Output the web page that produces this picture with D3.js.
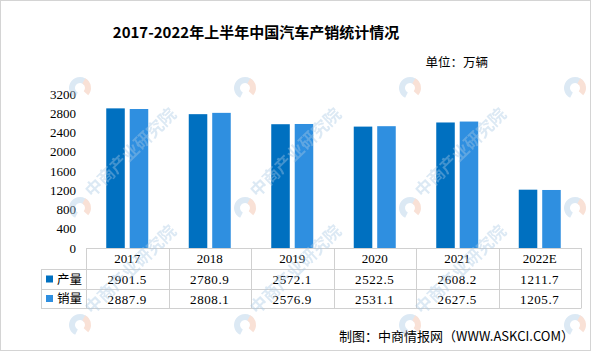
<!DOCTYPE html>
<html>
<head>
<meta charset="utf-8">
<script src="https://cdn.jsdelivr.net/npm/d3@7"></script>
<style>
  body { margin: 0; background: #fff; }
  svg { display: block; }
</style>
</head>
<body>
<div class="chart"></div>
<script>
//Chart data
var years = ["2017", "2018", "2019", "2020", "2021", "2022E"];
var production = [2901.5, 2780.9, 2572.1, 2522.5, 2608.2, 1211.7];
var sales = [2887.9, 2808.1, 2576.9, 2531.1, 2627.5, 1205.7];
var seriesNames = ["产量", "销量"];
var yTicks = [0, 400, 800, 1200, 1600, 2000, 2400, 2800, 3200];

var colors = ["#0070c0", "#2f8fe0"];
var cjk = "'Noto Sans CJK SC', sans-serif";
var num = "'Liberation Serif', serif";

//Width and height
var w = 595;
var h = 352;
var plotLeft = 86, plotRight = 581, plotTop = 94, plotBottom = 248;

var svg = d3.select(".chart")
    .append("svg")
    .attr("width", w)
    .attr("height", h);

//Frame
svg.append("rect")
    .attr("x", 0.5).attr("y", 0.5)
    .attr("width", 590).attr("height", 350)
    .attr("fill", "#fff")
    .attr("stroke", "#d4d4d4");

//Scales
var xScale = d3.scaleBand()
    .domain(years)
    .range([plotLeft, plotRight]);

var inner = d3.scaleBand()
    .domain(seriesNames)
    .range([-21, 21])
    .paddingInner(0.21);

var yScale = d3.scaleLinear()
    .domain([0, 3200])
    .range([plotBottom, plotTop]);

//Y axis
var yAxis = d3.axisLeft(yScale)
    .tickValues(yTicks)
    .tickFormat(d3.format("d"))
    .tickSize(0)
    .tickPadding(10);
var gy = svg.append("g")
    .attr("transform", "translate(" + plotLeft + ",0)")
    .call(yAxis);
gy.select(".domain").remove();
gy.selectAll("text")
    .style("font-family", num)
    .style("font-size", "13px")
    .attr("fill", "#000");

//Bars
var series = [production, sales];
series.forEach(function (values, s) {
    svg.append("g")
        .selectAll("rect")
        .data(values)
        .enter()
        .append("rect")
        .attr("x", (d, i) => xScale(years[i]) + xScale.bandwidth() / 2 + inner(seriesNames[s]))
        .attr("y", d => yScale(d))
        .attr("width", inner.bandwidth())
        .attr("height", d => yScale(0) - yScale(d))
        .attr("fill", colors[s]);
});

//Data table
var rowY = [248, 269, 289, 308];
var tableLeft = 41;
var lineColor = "#d0d0d0";
var table = svg.append("g").attr("stroke", lineColor).attr("stroke-width", 1);

rowY.forEach(function (y, r) {
    table.append("line")
        .attr("x1", r === 0 ? plotLeft : tableLeft).attr("x2", plotRight)
        .attr("y1", y + 0.5).attr("y2", y + 0.5);
});
var vx = years.map(d => xScale(d)).concat([plotRight]);
vx.forEach(function (x) {
    table.append("line")
        .attr("x1", Math.round(x) + 0.5).attr("x2", Math.round(x) + 0.5)
        .attr("y1", rowY[0]).attr("y2", rowY[3] + 0.5);
});
table.append("line")
    .attr("x1", tableLeft + 0.5).attr("x2", tableLeft + 0.5)
    .attr("y1", rowY[1]).attr("y2", rowY[3] + 0.5);

//Header row
svg.append("g")
    .selectAll("text")
    .data(years)
    .enter()
    .append("text")
    .attr("x", d => xScale(d) + xScale.bandwidth() / 2)
    .attr("y", 263)
    .attr("text-anchor", "middle")
    .style("font-family", num)
    .style("font-size", "13px")
    .text(d => d);

//Value rows
series.forEach(function (values, s) {
    var cy = (rowY[s + 1] + rowY[s + 2]) / 2;
    svg.append("rect")
        .attr("x", 46).attr("y", cy - 3.5)
        .attr("width", 7).attr("height", 7)
        .attr("fill", colors[s]);
    svg.append("text")
        .attr("x", 57).attr("y", cy + 4.5)
        .style("font-family", cjk)
        .style("font-size", "12.5px")
        .text(seriesNames[s]);
    svg.append("g")
        .selectAll("text")
        .data(values)
        .enter()
        .append("text")
        .attr("x", (d, i) => xScale(years[i]) + xScale.bandwidth() / 2)
        .attr("y", cy + 5)
        .attr("text-anchor", "middle")
        .style("font-family", num)
        .style("font-size", "13px")
        .style("letter-spacing", "0.6px")
        .text(d => d.toFixed(1));
});

//Title, unit and source
svg.append("text")
    .attr("x", 256).attr("y", 38)
    .attr("text-anchor", "middle")
    .style("font-family", cjk)
    .style("font-size", "15px")
    .style("font-weight", "bold")
    .text("2017-2022年上半年中国汽车产销统计情况");

svg.append("text")
    .attr("x", 488).attr("y", 67)
    .attr("text-anchor", "end")
    .style("font-family", cjk)
    .style("font-size", "12.5px")
    .text("单位：万辆");

svg.append("text")
    .attr("x", 574).attr("y", 341)
    .attr("text-anchor", "end")
    .style("font-family", cjk)
    .style("font-size", "13px")
    .text("制图：中商情报网（WWW.ASKCI.COM）");

//Watermarks (logo everywhere, text only where it fits inside the frame)
var wmX = [80, 245, 410, 575];
var wmY = [88, 208, 325];
var wm = svg.append("g").attr("opacity", 0.4).style("pointer-events", "none");
wmY.forEach(function (y) {
    wmX.forEach(function (x) {
        var g = wm.append("g").attr("transform", "translate(" + x + "," + y + ")");
        g.append("path")
            .attr("d", d3.arc()({innerRadius: 5, outerRadius: 11, startAngle: 3.6, endAngle: 7.2}))
            .attr("fill", "#a8c8e4");
        g.append("path")
            .attr("d", d3.arc()({innerRadius: 5, outerRadius: 11, startAngle: 0.5, endAngle: 2.3}))
            .attr("fill", "#f0b49a");
        if (y > 150 && x < 500) {
            g.append("text")
                .attr("transform", "translate(12,-10) rotate(-44)")
                .style("font-family", cjk)
                .style("font-size", "17px")
                .style("font-weight", "bold")
                .attr("fill", "#a8c8e4")
                .text("中商产业研究院");
        }
    });
});
</script>
</body>
</html>
